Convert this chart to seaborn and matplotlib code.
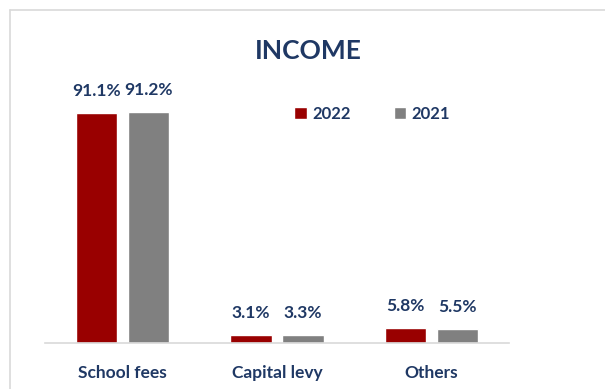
import matplotlib
matplotlib.use("Agg")
import matplotlib.pyplot as plt
from matplotlib.lines import Line2D
import seaborn as sns
import pandas as pd

# Income shares by source (%)
categories = ["School fees", "Capital levy", "Others"]
years = ["2022", "2021"]
values_2022 = [91.1, 3.1, 5.8]
values_2021 = [91.2, 3.3, 5.5]

colors = {"2022": "#990000", "2021": "#808080"}
text_color = "#1F3864"

df = pd.DataFrame({
    "category": categories * 2,
    "year": ["2022"] * len(categories) + ["2021"] * len(categories),
    "share": values_2022 + values_2021,
})

sns.set_theme(style="white")
plt.rcParams["font.family"] = ["Lato", "DejaVu Sans"]

fig = plt.figure(figsize=(6.05, 3.89), dpi=100)
ax = fig.add_axes([0.0752, 0.1183, 0.7653, 0.650])

sns.barplot(data=df, x="category", y="share", hue="year", hue_order=years,
            order=categories, palette=colors, width=0.674, gap=0.21,
            saturation=1, ax=ax, legend=True)

ax.set_xlim(-0.5, 2.5)
ax.set_ylim(0, 100)

for cont, yr in zip(ax.containers, years):
    vals = values_2022 if yr == "2022" else values_2021
    ax.bar_label(cont, labels=[f"{v}%" for v in vals], padding=10,
                 color=text_color, fontsize=12.5, fontweight="bold")

for s in ["top", "right", "left"]:
    ax.spines[s].set_visible(False)
ax.spines["bottom"].set_color("#D9D9D9")
ax.spines["bottom"].set_linewidth(1.2)
ax.set_yticks([])
ax.set_xlabel("")
ax.set_ylabel("")
ax.tick_params(axis="x", length=0, pad=16, labelsize=12.5, labelcolor=text_color)
for lbl in ax.get_xticklabels():
    lbl.set_fontweight("bold")

handles, labels = ax.get_legend_handles_labels()
ax.legend(handles, labels, loc="center", bbox_to_anchor=(0.615, 0.708),
          bbox_transform=fig.transFigure, ncol=2, frameon=False,
          handlelength=0.75, handleheight=0.75, handletextpad=0.3,
          columnspacing=2.6, prop={"weight": "bold", "size": 12})
for t in ax.get_legend().get_texts():
    t.set_color(text_color)

fig.text(0.509, 0.869, "INCOME", ha="center", va="center",
         fontsize=19, fontweight="bold", color=text_color)

# light frame along top and left edges
fig.add_artist(Line2D([10 / 605, 1.0], [1 - 9.5 / 389, 1 - 9.5 / 389],
                      transform=fig.transFigure, color="#D9D9D9", lw=1.2))
fig.add_artist(Line2D([10 / 605, 10 / 605], [0.0, 1 - 9.5 / 389],
                      transform=fig.transFigure, color="#D9D9D9", lw=1.2))

fig.savefig("out.png", dpi=100)
